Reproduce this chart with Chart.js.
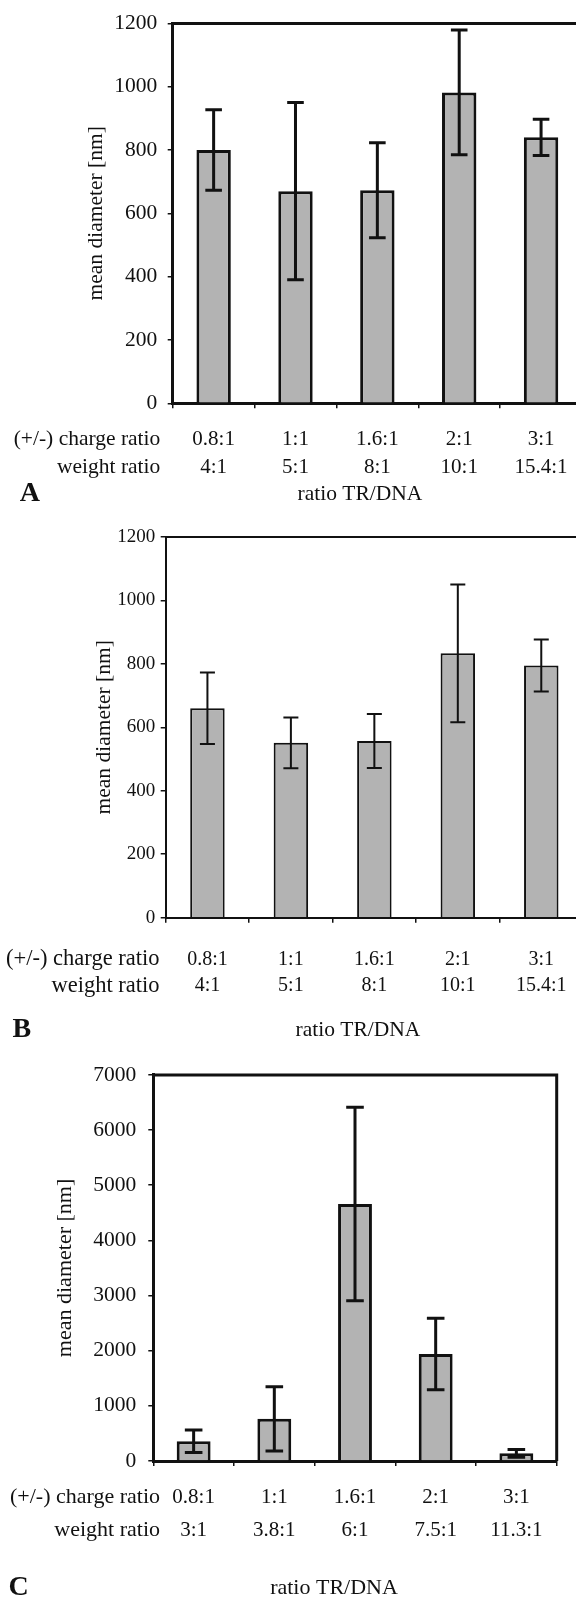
<!DOCTYPE html>
<html><head><meta charset="utf-8">
<script src="https://cdn.jsdelivr.net/npm/chart.js@4"></script>
<style>
html,body{margin:0;padding:0;background:#fff;}
body{width:576px;height:1605px;overflow:hidden;position:relative;}
canvas{position:absolute;left:0;}
</style></head><body>
<canvas id="cA" width="600" height="520" style="top:0px"></canvas>
<canvas id="cB" width="600" height="530" style="top:520px"></canvas>
<canvas id="cC" width="576" height="555" style="top:1050px"></canvas>
<script>
// ---------- data ----------
const chargeRatio = ['0.8:1', '1:1', '1.6:1', '2:1', '3:1'];
const weightRatioA = ['4:1', '5:1', '8:1', '10:1', '15.4:1'];
const weightRatioB = ['4:1', '5:1', '8:1', '10:1', '15.4:1'];
const weightRatioC = ['3:1', '3.8:1', '6:1', '7.5:1', '11.3:1'];
const meanA = [800, 670, 673, 982, 840];
const errA  = [127, 280, 150, 197, 57];
const meanB = [660, 551, 557, 833, 795];
const errB  = [113, 80, 85, 217, 82];
const meanC = [358, 764, 4660, 1939, 140];
const errC  = [206, 582, 1754, 648, 70];
const yMaxA = 1200, yStepA = 200;
const yMaxB = 1200, yStepB = 200;
const yMaxC = 7000, yStepC = 1000;
const rowHeaders = ['(+/-) charge ratio', 'weight ratio'];
const yTitle = 'mean diameter [nm]';
const xTitle = 'ratio TR/DNA';

const FONT = "'Liberation Serif','Times New Roman',serif";
const INK = '#111';

const decorPlugin = {
  id: 'decor',
  afterDatasetsDraw(chart, args, o) {
    const ctx = chart.ctx, ca = chart.chartArea, ys = chart.scales.y;
    const meta = chart.getDatasetMeta(0);
    const vals = chart.data.datasets[0].data;
    ctx.save();
    ctx.strokeStyle = INK;
    ctx.lineWidth = o.errWidth;
    meta.data.forEach((bar, i) => {
      const x = bar.x;
      const yt = ys.getPixelForValue(vals[i] + o.err[i]);
      const yb = ys.getPixelForValue(vals[i] - o.err[i]);
      ctx.beginPath();
      ctx.moveTo(x, yt); ctx.lineTo(x, yb);
      ctx.moveTo(x - o.cap, yt); ctx.lineTo(x + o.cap, yt);
      ctx.moveTo(x - o.cap, yb); ctx.lineTo(x + o.cap, yb);
      ctx.stroke();
    });
    ctx.lineWidth = o.frameWidth;
    ctx.beginPath();
    ctx.moveTo(ca.left, ca.top);
    ctx.lineTo(ca.right, ca.top);
    ctx.lineTo(ca.right, ca.bottom);
    ctx.stroke();
    ctx.restore();
  },
  afterDraw(chart, args, o) {
    const ctx = chart.ctx, xs = chart.scales.x;
    ctx.save();
    ctx.fillStyle = INK;
    ctx.textBaseline = 'middle';
    ctx.font = o.rowFont + 'px ' + FONT;
    ctx.textAlign = 'right';
    const base = xs.top + o.tl + o.pad;
    o.rows.forEach((t, i) => ctx.fillText(t, o.rowRight, base + o.lh * (i + 0.5)));
    ctx.textAlign = 'left';
    ctx.font = 'bold ' + o.letterFont + 'px ' + FONT;
    ctx.fillText(o.letter, o.letterX, o.bottomY);
    ctx.textAlign = 'center';
    ctx.font = o.titleFont + 'px ' + FONT;
    ctx.fillText(o.xTitle, o.xTitleX, o.bottomY);
    ctx.restore();
  }
};

function makeChart(id, p) {
  const labels = chargeRatio.map((c, i) => [c, p.weight[i]]);
  return new Chart(document.getElementById(id), {
    type: 'bar',
    data: {
      labels: labels,
      datasets: [{
        data: p.mean,
        backgroundColor: '#b3b3b3',
        borderColor: INK,
        borderWidth: p.barBorder,
        borderSkipped: 'bottom',
        barPercentage: p.barPct,
        categoryPercentage: 1
      }]
    },
    plugins: [decorPlugin],
    options: {
      responsive: false,
      animation: false,
      devicePixelRatio: 1,
      layout: { padding: { top: p.padTop, right: p.padRight, left: 0, bottom: 0 } },
      plugins: {
        legend: { display: false },
        tooltip: { enabled: false },
        decor: {
          err: p.err, errWidth: p.errWidth, cap: p.cap, frameWidth: p.frameWidth,
          rows: rowHeaders, rowFont: p.rowFont, rowRight: p.rowRight,
          tl: 5, pad: p.xPad, lh: p.lh,
          letter: p.letter, letterFont: 28, letterX: p.letterX, bottomY: p.bottomY,
          xTitle: xTitle, xTitleX: p.xTitleX, titleFont: p.titleFont
        }
      },
      scales: {
        x: {
          afterFit: s => { s.height = p.xHeight; },
          grid: { drawOnChartArea: false, drawTicks: true, tickLength: 5, color: INK, lineWidth: 1.5, offset: true },
          border: { display: true, color: INK, width: p.axisWidth },
          ticks: {
            color: INK, padding: p.xPad, maxRotation: 0, autoSkip: false,
            font: { family: FONT, size: p.xFont, lineHeight: p.lh / p.xFont }
          }
        },
        y: {
          min: 0, max: p.yMax,
          afterFit: s => { s.width = p.yWidth; },
          grid: { drawOnChartArea: false, drawTicks: true, tickLength: 5, color: INK, lineWidth: 1.5 },
          border: { display: true, color: INK, width: p.axisWidth },
          ticks: {
            stepSize: p.yStep, color: INK, padding: p.yPad,
            font: { family: FONT, size: p.yFont },
            callback: v => String(v)
          },
          title: {
            display: true, text: yTitle, color: INK,
            font: { family: FONT, size: p.titleFont, lineHeight: 1.2 },
            padding: { top: p.titlePad, bottom: 0 }
          }
        }
      }
    }
  });
}

makeChart('cA', {
  weight: weightRatioA, mean: meanA, err: errA, yMax: yMaxA, yStep: yStepA,
  padTop: 19.3, padRight: 18, yWidth: 172.7, xHeight: 116.7,
  xFont: 21, yFont: 21.5, rowFont: 21.5, titleFont: 21.5, lh: 28.6, xPad: 16.4, yPad: 10.5, titlePad: 83,
  barBorder: 3, errWidth: 3, cap: 8.3, frameWidth: 3, axisWidth: 3, barPct: 0.42,
  rowRight: 160.3, letter: 'A', letterX: 19.7, bottomY: 494, xTitleX: 360
});
makeChart('cB', {
  weight: weightRatioB, mean: meanB, err: errB, yMax: yMaxB, yStep: yStepB,
  padTop: 15.7, padRight: 17, yWidth: 165.7, xHeight: 132.3,
  xFont: 20, yFont: 19, rowFont: 22.5, titleFont: 21.5, lh: 26.5, xPad: 23.5, yPad: 5.5, titlePad: 91,
  barBorder: 2, errWidth: 2, cap: 7.5, frameWidth: 2, axisWidth: 2, barPct: 0.413,
  rowRight: 159.5, letter: 'B', letterX: 12.5, bottomY: 510, xTitleX: 358
});
makeChart('cC', {
  weight: weightRatioC, mean: meanC, err: errC, yMax: yMaxC, yStep: yStepC,
  padTop: 20, padRight: 19.3, yWidth: 153.3, xHeight: 144,
  xFont: 21, yFont: 21.5, rowFont: 22, titleFont: 22, lh: 33, xPad: 14.5, yPad: 12, titlePad: 52,
  barBorder: 3, errWidth: 3, cap: 8.8, frameWidth: 3, axisWidth: 3, barPct: 0.42,
  rowRight: 160, letter: 'C', letterX: 8.5, bottomY: 538, xTitleX: 334
});
</script>
</body></html>
